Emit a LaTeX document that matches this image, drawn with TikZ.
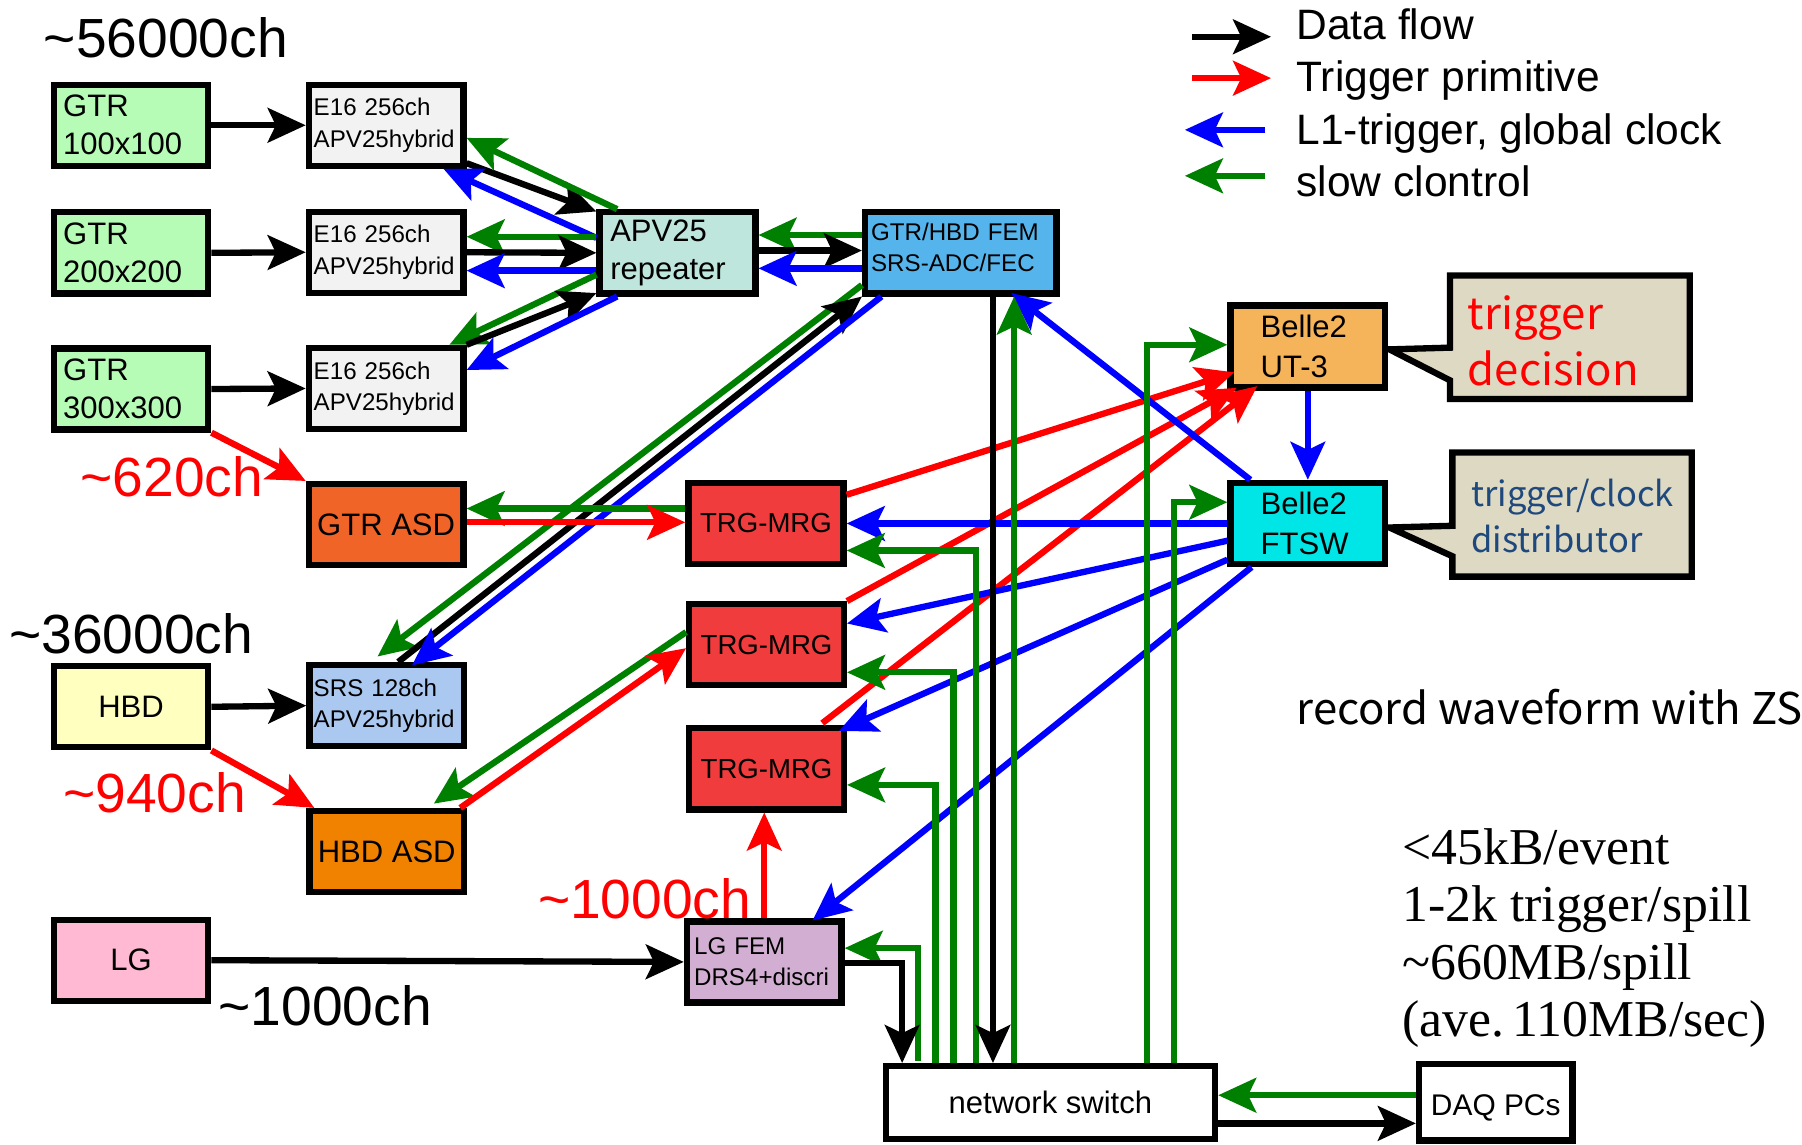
\documentclass[tikz,border=0pt]{standalone}
\usepackage{fontspec}
\setmainfont{Liberation Sans}
\newfontfamily\cjkfont{Noto Sans CJK JP}
\newfontfamily\seriffont{Liberation Serif}
\usetikzlibrary{arrows.meta,calc}
\newcommand{\myfs}[2]{\fontsize{#1}{#2}\selectfont}
\definecolor{cgtr}{RGB}{182,252,182}
\definecolor{ce16}{RGB}{242,242,242}
\definecolor{capv}{RGB}{190,230,220}
\definecolor{cfem}{RGB}{85,180,235}
\definecolor{cut}{RGB}{245,180,90}
\definecolor{cftsw}{RGB}{0,230,230}
\definecolor{ccall}{RGB}{221,217,195}
\definecolor{cgasd}{RGB}{240,100,40}
\definecolor{cmrg}{RGB}{240,60,60}
\definecolor{chbd}{RGB}{255,255,192}
\definecolor{csrs}{RGB}{170,200,240}
\definecolor{chasd}{RGB}{240,130,0}
\definecolor{clg}{RGB}{255,185,210}
\definecolor{clgf}{RGB}{210,175,210}
\definecolor{ggreen}{RGB}{0,128,0}
\definecolor{bblue}{RGB}{0,0,255}
\definecolor{rred}{RGB}{255,0,0}
\definecolor{dblue}{RGB}{31,73,125}
\begin{document}
\begin{tikzpicture}[x=1pt,y=-1pt,
  box/.style={draw, line width=5.5pt, minimum width=134.5pt, minimum height=70.5pt, inner sep=0pt, align=center, font=\myfs{27}{33}},
  con/.style={line width=5.5pt, -{Stealth[length=33pt,width=30pt,inset=7pt]}},
  cblk/.style={con, black},
  cred/.style={con, rred},
  cblu/.style={con, bblue},
  cgrn/.style={con, ggreen},
  callout/.style={draw, line width=5.5pt, fill=ccall, line join=miter},
  big/.style={inner sep=0pt, anchor=base west, font=\myfs{48}{56}},
  legtxt/.style={inner sep=0pt, anchor=base west, font=\myfs{37}{44}}
]
\useasboundingbox (0,0) rectangle (1568,996);

% callouts
\draw[callout] (1261.75,239.75) -- (1470.25,239.75) -- (1470.25,347.25) -- (1261.75,347.25) -- (1261.75,331) -- (1209,304) -- (1261.75,302.5) -- cycle;
\draw[callout] (1263.75,393.75) -- (1472,393.75) -- (1472,501.75) -- (1263.75,501.75) -- (1263.75,484) -- (1209,459) -- (1263.75,457.5) -- cycle;
\node[inner sep=0pt, anchor=base west, align=left, text=rred, font={\cjkfont\myfs{38}{48}}] (tdec) at (1277,335) {trigger\\decision};
\node[inner sep=0pt, anchor=base west, align=left, text=dblue, font={\cjkfont\myfs{30}{40}}] (tclk) at (1280,481) {trigger/clock\\distributor};

% boxes
\node[box, fill=cgtr, text width=118pt, align=left] (gtrA) at (114,109) {GTR\\100x100};
\node[box, fill=cgtr, text width=118pt, align=left] (gtrB) at (114,220) {GTR\\200x200};
\node[box, fill=cgtr, text width=118pt, align=left] (gtrC) at (114,338.5) {GTR\\300x300};
\node[box, fill=ce16, text width=126pt, align=left, font=\myfs{21}{27}] (e16A) at (336,109) {E16 256ch\\APV25hybrid\rule[-3pt]{0pt}{3pt}};
\node[box, fill=ce16, text width=126pt, align=left, font=\myfs{21}{27}] (e16B) at (336,219.5) {E16 256ch\\APV25hybrid\rule[-3pt]{0pt}{3pt}};
\node[box, fill=ce16, text width=126pt, align=left, font=\myfs{21}{27}] (e16C) at (336,338) {E16 256ch\\APV25hybrid\rule[-3pt]{0pt}{3pt}};
\node[box, fill=capv, minimum width=135.5pt, text width=117pt, align=left] (apv) at (589.5,220) {APV25\\repeater};
\node[box, fill=cfem, minimum width=166.5pt, text width=156pt, align=left, font=\myfs{21}{27}] (fem) at (836,220) {GTR/HBD FEM\\SRS-ADC/FEC\rule[-9pt]{0pt}{9pt}};
\node[box, fill=cut, minimum height=71.5pt, text width=82pt, align=left, font=\myfs{27}{35}] (ut3) at (1138,301.5) {Belle2\\UT-3};
\node[box, fill=cftsw, text width=82pt, align=left, font=\myfs{27}{35}] (ftsw) at (1138,455.5) {Belle2\\FTSW};
\node[box, fill=cgasd] (gtrasd) at (336,456.5) {GTR ASD};
\node[box, fill=cmrg, minimum width=135pt, font=\myfs{24}{28}] (mrgA) at (666.5,455.5) {TRG-MRG};
\node[box, fill=cmrg, font=\myfs{24}{28}] (mrgB) at (667,561) {TRG-MRG};
\node[box, fill=cmrg, font=\myfs{24}{28}] (mrgC) at (667,669) {TRG-MRG};
\node[box, fill=chbd] (hbd) at (114,615) {HBD};
\node[box, fill=csrs, text width=127pt, align=left, font=\myfs{21}{27}] (srs) at (336.5,614) {SRS 128ch\\APV25hybrid};
\node[box, fill=chasd] (hbdasd) at (336.5,741) {HBD ASD};
\node[box, fill=clg] (lg) at (114,835.5) {LG};
\node[box, fill=clgf, text width=122pt, align=left, font=\myfs{21}{27}] (lgfem) at (665,837) {LG FEM\\DRS4+discri};
\node[box, fill=white, minimum width=286.5pt, minimum height=63.5pt, font=\myfs{27}{30}] (switch) at (914,959.5) {network switch};
\node[box, fill=white, minimum width=133.5pt, minimum height=66.5pt, font=\myfs{26}{30}] (daq) at (1301.5,959) {\rule{0pt}{29pt}DAQ PCs};

% texts
\node[big] (t56) at (38,50) {\textasciitilde 56000ch};
\node[big, text=rred] (t620) at (70,432) {\textasciitilde 620ch};
\node[big] (t36) at (8,569) {\textasciitilde 36000ch};
\node[big, text=rred] (t940) at (55,707) {\textasciitilde 940ch};
\node[big, text=rred] (t1000r) at (468,799) {\textasciitilde 1000ch};
\node[big] (t1000b) at (190,892) {\textasciitilde 1000ch};
\node[inner sep=0pt, anchor=base west, font={\cjkfont\myfs{38}{44}}] (trec) at (1128,630) {record waveform with ZS};
\node[inner sep=0pt, anchor=base west, align=left, font={\seriffont\myfs{45}{50}}] (tstat) at (1220,902) {\textless 45kB/event\\1-2k trigger/spill\\\textasciitilde 660MB/spill\\(ave.\,110MB/sec)};

% legend
\node[legtxt] (leg1) at (1128,34.5) {Data flow};
\node[legtxt] (leg2) at (1128,80) {Trigger primitive};
\node[legtxt] (leg3) at (1128,125.5) {L1-trigger, global clock};
\node[legtxt] (leg4) at (1128,171) {slow clontrol};
\coordinate (lA1) at (1037,32); \coordinate (lA2) at (1106,32);
\coordinate (lB1) at (1037,68); \coordinate (lB2) at (1106,68);
\coordinate (lC1) at (1101,113); \coordinate (lC2) at (1031,113);
\coordinate (lD1) at (1101,153); \coordinate (lD2) at (1031,153);
\draw[cblk] (lA1) -- (lA2);
\draw[cred] (lB1) -- (lB2);
\draw[cblu] (lC1) -- (lC2);
\draw[cgrn] (lD1) -- (lD2);

% GTR -> E16
\draw[cblk] (gtrA.east) -- (e16A.west);
\draw[cblk] (gtrB.east) -- (e16B.west);
\draw[cblk] (gtrC.east) -- (e16C.west);
% E16A <-> APV
\draw[cblk] ([yshift=5pt]e16A.south east) -- ([yshift=-2pt]apv.north west);
\draw[cgrn] ([xshift=18pt]apv.north west) -- ([yshift=-11pt]e16A.east);
\draw[cblu] ([yshift=13pt]apv.west) -- ([xshift=-20pt]e16A.south east);
% E16B <-> APV
\draw[cgrn] ([yshift=14pt]apv.west) -- ([yshift=13.5pt]e16B.east);
\draw[cblk] (e16B.east) -- (apv.west);
\draw[cblu] ([yshift=-15.5pt]apv.west) -- ([yshift=-16pt]e16B.east);
% E16C <-> APV
\draw[cgrn] ([yshift=-19pt]apv.west) -- ([xshift=-15pt]e16C.north east);
\draw[cblk] (e16C.north east) -- ([yshift=3pt]apv.south west);
\draw[cblu] ([xshift=18pt]apv.south west) -- ([yshift=16pt]e16C.east);
% APV <-> FEM
\draw[cgrn] ([yshift=15.5pt]fem.west) -- ([yshift=15.5pt]apv.east);
\draw[cblk] ([yshift=2pt]apv.east) -- ([yshift=2pt]fem.west);
\draw[cblu] ([yshift=-13.5pt]fem.west) -- ([yshift=-13.5pt]apv.east);
% FEM <-> SRS
\draw[cgrn] ([yshift=10pt]fem.south west) -- ([xshift=62pt,yshift=4.75pt]srs.north west);
\draw[cblk] ([xshift=80pt]srs.north west) -- (fem.south west);
\draw[cblu] ([xshift=17pt]fem.south west) -- ([xshift=92pt,yshift=-3pt]srs.north west);
% GTR ASD
\draw[cred] (gtrC.south east) -- (gtrasd.north west);
\draw[cgrn] ([yshift=13pt]mrgA.west) -- ([yshift=14pt]gtrasd.east);
\draw[cred] ([yshift=2pt]gtrasd.east) -- ([yshift=1pt]mrgA.west);
% HBD
\draw[cblk] (hbd.east) -- (srs.west);
\draw[cred] (hbd.south east) -- ([xshift=7pt]hbdasd.north west);
\draw[cgrn] ([yshift=11pt]mrgB.west) -- ([xshift=41pt,yshift=3.75pt]hbdasd.north);
\draw[cred] ([xshift=-6pt]hbdasd.north east) -- ([yshift=-3pt]mrgB.west);
% LG
\draw[cblk] (lg.east) -- (lgfem.west);
\draw[cred] (lgfem.north) -- (lgfem.north |- mrgC.south);
% MRG -> UT3
\draw[cred] ([yshift=25pt]mrgA.east) -- ([xshift=6pt,yshift=16pt]ut3.south west);
\draw[cred] (mrgB.north east) -- ([xshift=8pt,yshift=2.5pt]ut3.south west);
\draw[cred] ([xshift=-21.5pt,yshift=1.75pt]mrgC.north east) -- ([xshift=26pt,yshift=4pt]ut3.south west);
% FTSW blue
\draw[cblu] ([xshift=20pt]ftsw.north west) -- ([xshift=-42pt,yshift=3pt]fem.south east);
\draw[cblu] (ut3.south) -- (ftsw.north);
\draw[cblu] (ftsw.west) -- (mrgA.east);
\draw[cblu] ([yshift=-15pt]ftsw.west) -- ([yshift=18.5pt]mrgB.east);
\draw[cblu] ([yshift=-31.5pt]ftsw.west) -- ([xshift=-7pt,yshift=-5pt]mrgC.north east);
\draw[cblu] ([xshift=21pt]ftsw.south west) -- ([xshift=-28pt,yshift=-2pt]lgfem.north east);
% switch green
\draw[cgrn] ([xshift=-115pt,yshift=2pt]switch.north) |- ([yshift=12pt]lgfem.east);
\draw[cgrn] ([xshift=-100pt]switch.north) |- ([yshift=-14pt]mrgC.east);
\draw[cgrn] ([xshift=-84.3pt]switch.north) |- ([yshift=-24pt]mrgB.east);
\draw[cgrn] ([xshift=-65pt]switch.north) |- ([yshift=-23.5pt]mrgA.east);
\draw[cgrn] ([xshift=-31.5pt]switch.north) -- ([xshift=-31.5pt]switch.north |- fem.south);
\draw[cgrn] ([xshift=84pt]switch.north) |- ([yshift=1.5pt]ut3.west);
\draw[cgrn] ([xshift=107.4pt]switch.north) |- ([yshift=18.5pt]ftsw.west);
% data to switch
\draw[cblk] ([xshift=-50pt]switch.north |- fem.south) -- ([xshift=-50pt]switch.north);
\draw[cblk] ([yshift=-1pt]lgfem.east) -| ([xshift=-129pt]switch.north);
% DAQ
\draw[cgrn] ([yshift=6pt]daq.west) -- ([yshift=6pt]daq.west -| switch.east);
\draw[cblk] ([yshift=-18pt]switch.east) -- ([yshift=-18pt]switch.east -| daq.west);
\end{tikzpicture}
\end{document}
